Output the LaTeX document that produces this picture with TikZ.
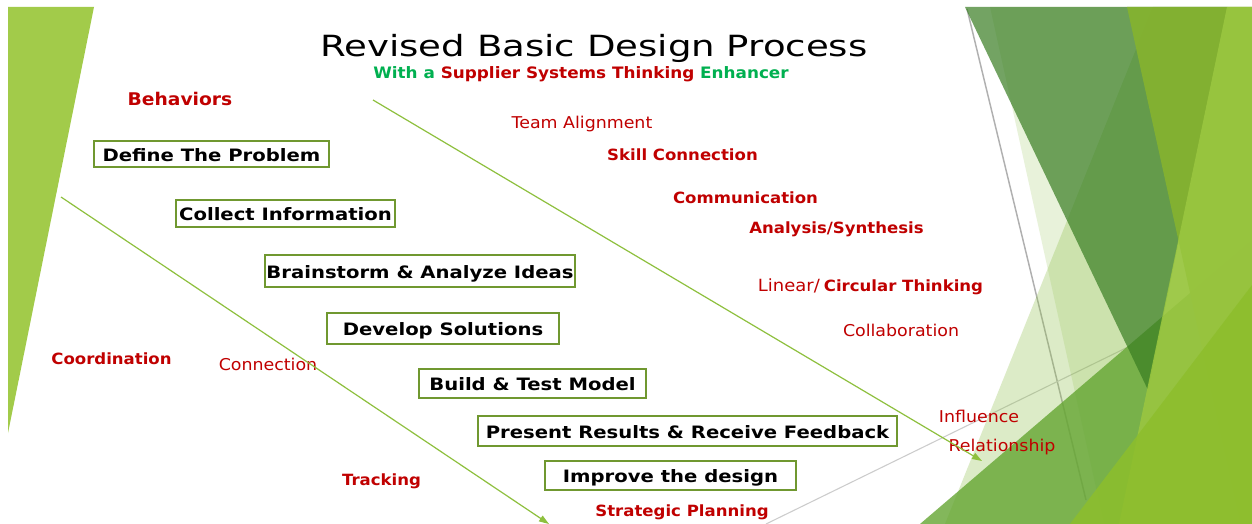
\documentclass[tikz,border=0pt]{standalone}
\usepackage{fontspec}
\setmainfont{DejaVu Sans}[FakeStretch=1.27]
\newfontfamily\labelfont{DejaVu Sans}[FakeStretch=1.07]
\newfontfamily\stepfont{DejaVu Sans}[FakeStretch=1.15]
\usetikzlibrary{arrows.meta}

\definecolor{leafgreen}{RGB}{162,203,74}
\definecolor{deepred}{RGB}{192,0,0}
\definecolor{brightgreen}{RGB}{0,176,80}
\definecolor{boxline}{RGB}{112,152,48}
\definecolor{arrowgreen}{RGB}{142,192,62}
\definecolor{palegreen}{RGB}{140,190,70}
\definecolor{mossgreen}{RGB}{56,125,34}
\definecolor{grassgreen}{RGB}{100,165,50}
\definecolor{olivelime}{RGB}{132,178,48}
\definecolor{softlime}{RGB}{154,198,64}
\definecolor{limegreen}{RGB}{141,190,44}

\tikzset{every picture/.style={line width=0.75pt}}

\begin{document}
\begin{tikzpicture}[x=0.75pt,y=0.75pt,yscale=-1,xscale=1,
  stepbox/.style={draw=boxline,line width=1.5pt,fill=white,inner sep=0pt,
    text height=11.3pt,text depth=0.5pt,
    font={\stepfont\fontsize{12.8}{15}\selectfont\bfseries}},
  keyword/.style={text=deepred,inner sep=0pt,text height=8.8pt,text depth=2.3pt,
    font={\labelfont\fontsize{11.6}{14}\selectfont\bfseries}},
  softword/.style={text=deepred,inner sep=0pt,text height=9.3pt,text depth=2.5pt,
    font={\labelfont\fontsize{12.2}{14}\selectfont}},
  flow/.style={color=arrowgreen,line width=0.9pt,-{Triangle[length=7.5pt,width=5pt]}}]
	\path[fill=white] (0,0) rectangle (1252,524);
	\useasboundingbox (0,0) rectangle (1252,524);

	%Shape: Triangle [id:dp4418209735511803]
	\fill[leafgreen] (8,7) -- (94,7) -- (8,433) -- cycle ;

	%Straight Lines [id:da2870316458172214]
	\draw [color={rgb,255:red,176;green,176;blue,176},line width=1.1pt] (967,9) -- (1086,500) ;
	%Straight Lines [id:da7731960528104412]
	\draw [color={rgb,255:red,204;green,204;blue,204},line width=0.8pt] (766,524) -- (1130,346) ;

	%Shape: Polygon [id:dp6620358471190544]
	\fill[palegreen,fill opacity=0.2] (990,7) -- (1252,7) -- (1252,524) -- (1104,524) -- cycle ;
	%Shape: Polygon [id:dp1903766458251172]
	\fill[palegreen,fill opacity=0.3] (1153,7) -- (1252,7) -- (1252,524) -- (945,524) -- cycle ;
	%Shape: Triangle [id:dp8350914273646027]
	\fill[grassgreen,fill opacity=0.8] (920,524) -- (1252,240) -- (1252,524) -- cycle ;
	%Shape: Triangle [id:dp3057712489902316]
	\fill[mossgreen,fill opacity=0.7] (965,7) -- (1227,7) -- (1148,390) -- cycle ;
	%Shape: Polygon [id:dp9126405573318840]
	\fill[olivelime,fill opacity=0.95] (1127,7) -- (1252,7) -- (1252,524) -- (1241,524) -- cycle ;
	%Shape: Polygon [id:dp2645081779213358]
	\fill[softlime,fill opacity=0.89] (1227,7) -- (1252,7) -- (1252,524) -- (1119,524) -- cycle ;
	%Shape: Triangle [id:dp5572010934816629]
	\fill[limegreen,fill opacity=0.85] (1070,524) -- (1252,285) -- (1252,524) -- cycle ;

	% Text Node
	\draw (594,48) node (title) [inner sep=0pt,font={\fontsize{21.9}{26}\selectfont}] {Revised Basic Design Process};
	% Text Node
	\draw (581,74) node (subtitle) [inner sep=0pt,font={\labelfont\fontsize{11.8}{14}\selectfont\bfseries}] {\textcolor{brightgreen}{With a} \textcolor{deepred}{Supplier Systems Thinking} \textcolor{brightgreen}{Enhancer}};

	% Step boxes
	\draw (211.5,154) node (define) [stepbox,minimum width=176.25pt,minimum height=19.5pt] {Define The Problem};
	\draw (285.5,213.5) node (collect) [stepbox,minimum width=164.25pt,minimum height=20.25pt] {Collect Information};
	\draw (420,271) node (brainstorm) [stepbox,minimum width=232.5pt,minimum height=24pt] {Brainstorm \& Analyze Ideas};
	\draw (443,328.5) node (develop) [stepbox,minimum width=174pt,minimum height=23.25pt] {Develop Solutions};
	\draw (532.5,383.5) node (build) [stepbox,minimum width=170.25pt,minimum height=21.75pt] {Build \& Test Model};
	\draw (687.5,431) node (present) [stepbox,minimum width=314.25pt,minimum height=22.5pt] {Present Results \& Receive Feedback};
	\draw (670.5,475.5) node (improve) [stepbox,minimum width=188.25pt,minimum height=21.75pt] {Improve the design};

	% Text Node
	\draw (180,101.5) node (behaviors) [keyword,font={\labelfont\fontsize{13.1}{15}\selectfont\bfseries}] {Behaviors};
	% Text Node
	\draw (582,123.5) node (team) [softword] {Team Alignment};
	% Text Node
	\draw (682.5,156.5) node (skill) [keyword] {Skill Connection};
	% Text Node
	\draw (745.5,199.5) node (communication) [keyword] {Communication};
	% Text Node
	\draw (836.5,229.5) node (analysis) [keyword] {Analysis/Synthesis};
	% Text Node
	\draw (870.5,287.5) node (thinking) [keyword] {{\fontsize{12.6}{14}\mdseries\selectfont Linear/}\hspace{3pt}Circular Thinking};
	% Text Node
	\draw (901,331.5) node (collaboration) [softword] {Collaboration};
	% Text Node
	\draw (111.5,360.5) node (coordination) [keyword] {Coordination};
	% Text Node
	\draw (268,365.5) node (connection) [softword] {Connection};
	% Text Node
	\draw (979,417.5) node (influence) [softword] {Influence};
	% Text Node
	\draw (1002,446.5) node (relationship) [softword] {Relationship};
	% Text Node
	\draw (381.5,481.5) node (tracking) [keyword] {Tracking};
	% Text Node
	\draw (682,512) node (strategic) [keyword] {Strategic Planning};

	% Arrows
	\coordinate (upperStart) at (373,100) ;
	\coordinate (upperEnd) at (982,461) ;
	\coordinate (lowerStart) at (61,197) ;
	\coordinate (lowerEnd) at (549,524) ;
	\draw [flow] (upperStart) -- (upperEnd) ;
	\draw [flow] (lowerStart) -- (lowerEnd) ;

\end{tikzpicture}
\end{document}
